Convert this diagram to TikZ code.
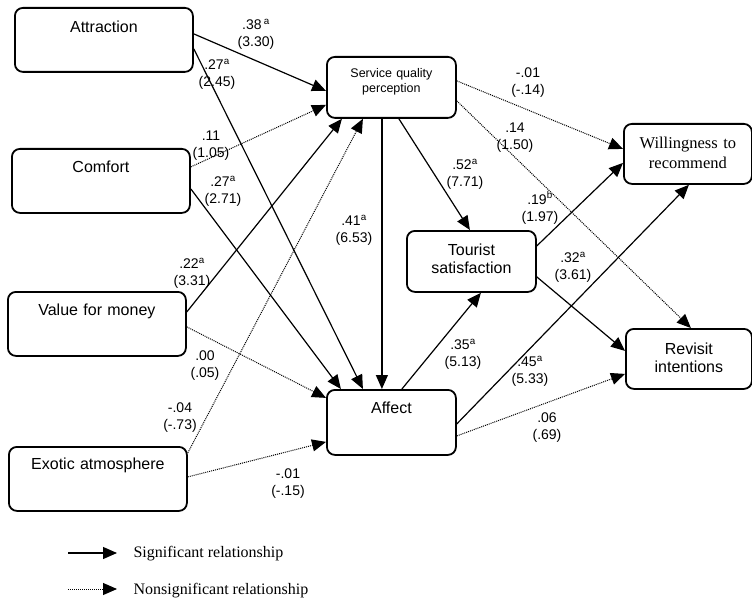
\documentclass[tikz,border=0pt]{standalone}
\usepackage{fontspec}
\setmainfont{Liberation Sans}
\newfontfamily\timesfont{Liberation Serif}
\usetikzlibrary{arrows.meta}
\tikzset{every picture/.style={line width=1.2pt}}

\begin{document}
\begin{tikzpicture}[x=1pt,y=-1pt,
    box/.style={draw, line width=1.8pt, rounded corners=8pt, inner sep=0pt, align=center, anchor=north west, font=\fontsize{16}{18}\selectfont},
    sig/.style={-{Triangle[length=14pt,width=12pt]}},
    nsig/.style={-{Triangle[length=14pt,width=12pt]}, line width=1pt, dash pattern=on 1pt off 1pt},
    coef/.style={align=center, inner sep=0pt, font=\fontsize{14}{17}\selectfont},
    legtext/.style={anchor=base west, inner sep=0pt, font=\timesfont\fontsize{16}{18}\selectfont}]
        \useasboundingbox (0,0) rectangle (752,599);
        % constructs
        \node[box, text width=178pt, text height=25pt, text depth=39pt] (attr) at (14,7) {Attraction};
        \node[box, text width=178pt, text height=24pt, text depth=40pt] (comf) at (11,148) {Comfort};
        \node[box, text width=178pt, text height=24pt, text depth=40pt] (vfm) at (7,291) {Value for money};
        \node[box, text width=178pt, text height=23pt, text depth=41pt] (exot) at (8,446) {Exotic atmosphere};
        \node[box, text width=129pt, text height=21pt, text depth=40pt, font=\fontsize{12.5}{15}\selectfont] (sqp) at (326,56) {Service quality\\perception};
        \node[box, text width=129pt, text height=24pt, text depth=41pt] (aff) at (326,389) {Affect};
        \node[box, text width=129pt, text height=25pt, text depth=36pt, font=\fontsize{16}{17.5}\selectfont] (ts) at (406,230) {Tourist\\satisfaction};
        \node[box, text width=128pt, text height=25pt, text depth=35pt, font=\timesfont\fontsize{16.5}{20}\selectfont] (will) at (623,123) {Willingness to\\recommend};
        \node[box, text width=126pt, text height=26pt, text depth=34pt] (rev) at (625,328) {Revisit\\intentions};
        % paths
        \draw
            ([yshift=6pt]attr.east) edge[sig] ([yshift=-3.5pt]sqp.west)
            ([yshift=-9pt]attr.east) edge[sig] ([xshift=-28.5pt]aff.north)
            ([yshift=14pt]comf.east) edge[nsig] ([yshift=-17.5pt]sqp.west)
            ([yshift=-8pt]comf.east) edge[sig] ([xshift=-50.5pt]aff.north)
            ([yshift=12pt]vfm.east) edge[sig] ([xshift=-49.5pt]sqp.south)
            ([yshift=-3pt]vfm.east) edge[nsig] ([yshift=24.5pt]aff.west)
            ([yshift=26pt]exot.east) edge[nsig] ([xshift=-28.5pt]sqp.south)
            ([yshift=2pt]exot.east) edge[nsig] ([yshift=-19.5pt]aff.west)
            ([xshift=-9.5pt]sqp.south) edge[sig] ([xshift=-9.5pt]aff.north)
            ([xshift=7.5pt]sqp.south) edge[sig] ([xshift=-1.5pt]ts.north)
            ([yshift=6.5pt]sqp.east) edge[nsig] ([yshift=5pt]will.west)
            ([yshift=-13.5pt]sqp.east) edge[nsig] ([xshift=2pt]rev.north)
            ([yshift=15.5pt]ts.east) edge[sig] ([yshift=-9pt]will.west)
            ([yshift=-15.5pt]ts.east) edge[sig] ([yshift=8pt]rev.west)
            ([xshift=10.5pt]aff.north) edge[sig] ([xshift=9.5pt]ts.south)
            ([yshift=-1.5pt]aff.east) edge[sig] ([xshift=1pt]will.south)
            ([yshift=-13.5pt]aff.east) edge[nsig] ([yshift=-15pt]rev.west)
            ;
        % coefficients
        \node[coef] (c1) at (256,34) {.38\,\textsuperscript{a}\\(3.30)};
        \node[coef] (c2) at (217,74) {.27\textsuperscript{a}\\(2.45)};
        \node[coef] (c3) at (211,146) {.11\\(1.05)};
        \node[coef] (c4) at (223,191) {.27\textsuperscript{a}\\(2.71)};
        \node[coef] (c5) at (192,273) {.22\textsuperscript{a}\\(3.31)};
        \node[coef] (c6) at (205,366) {.00\\(.05)};
        \node[coef] (c7) at (180,418) {-.04\\(-.73)};
        \node[coef] (c8) at (288,484) {-.01\\(-.15)};
        \node[coef] (c9) at (354,230) {.41\textsuperscript{a}\\(6.53)};
        \node[coef] (c10) at (465,174) {.52\textsuperscript{a}\\(7.71)};
        \node[coef] (c11) at (528,83) {-.01\\(-.14)};
        \node[coef] (c12) at (515,138) {.14\\(1.50)};
        \node[coef] (c13) at (540,208) {.19\textsuperscript{b}\\(1.97)};
        \node[coef] (c14) at (573,267) {.32\textsuperscript{a}\\(3.61)};
        \node[coef] (c15) at (463,354) {.35\textsuperscript{a}\\(5.13)};
        \node[coef] (c16) at (530,371) {.45\textsuperscript{a}\\(5.33)};
        \node[coef] (c17) at (547,428) {.06\\(.69)};
        % legend
        \coordinate (s0) at (68,553);
        \coordinate (s1) at (117,553);
        \coordinate (n0) at (68,589);
        \coordinate (n1) at (117,589);
        \draw (s0) edge[sig] (s1) (n0) edge[nsig] (n1);
        \node[legtext] (sigtext) at (133,557) {Significant relationship};
        \node[legtext] (nsigtext) at (133,594) {Nonsignificant relationship};
    \end{tikzpicture}
\end{document}
